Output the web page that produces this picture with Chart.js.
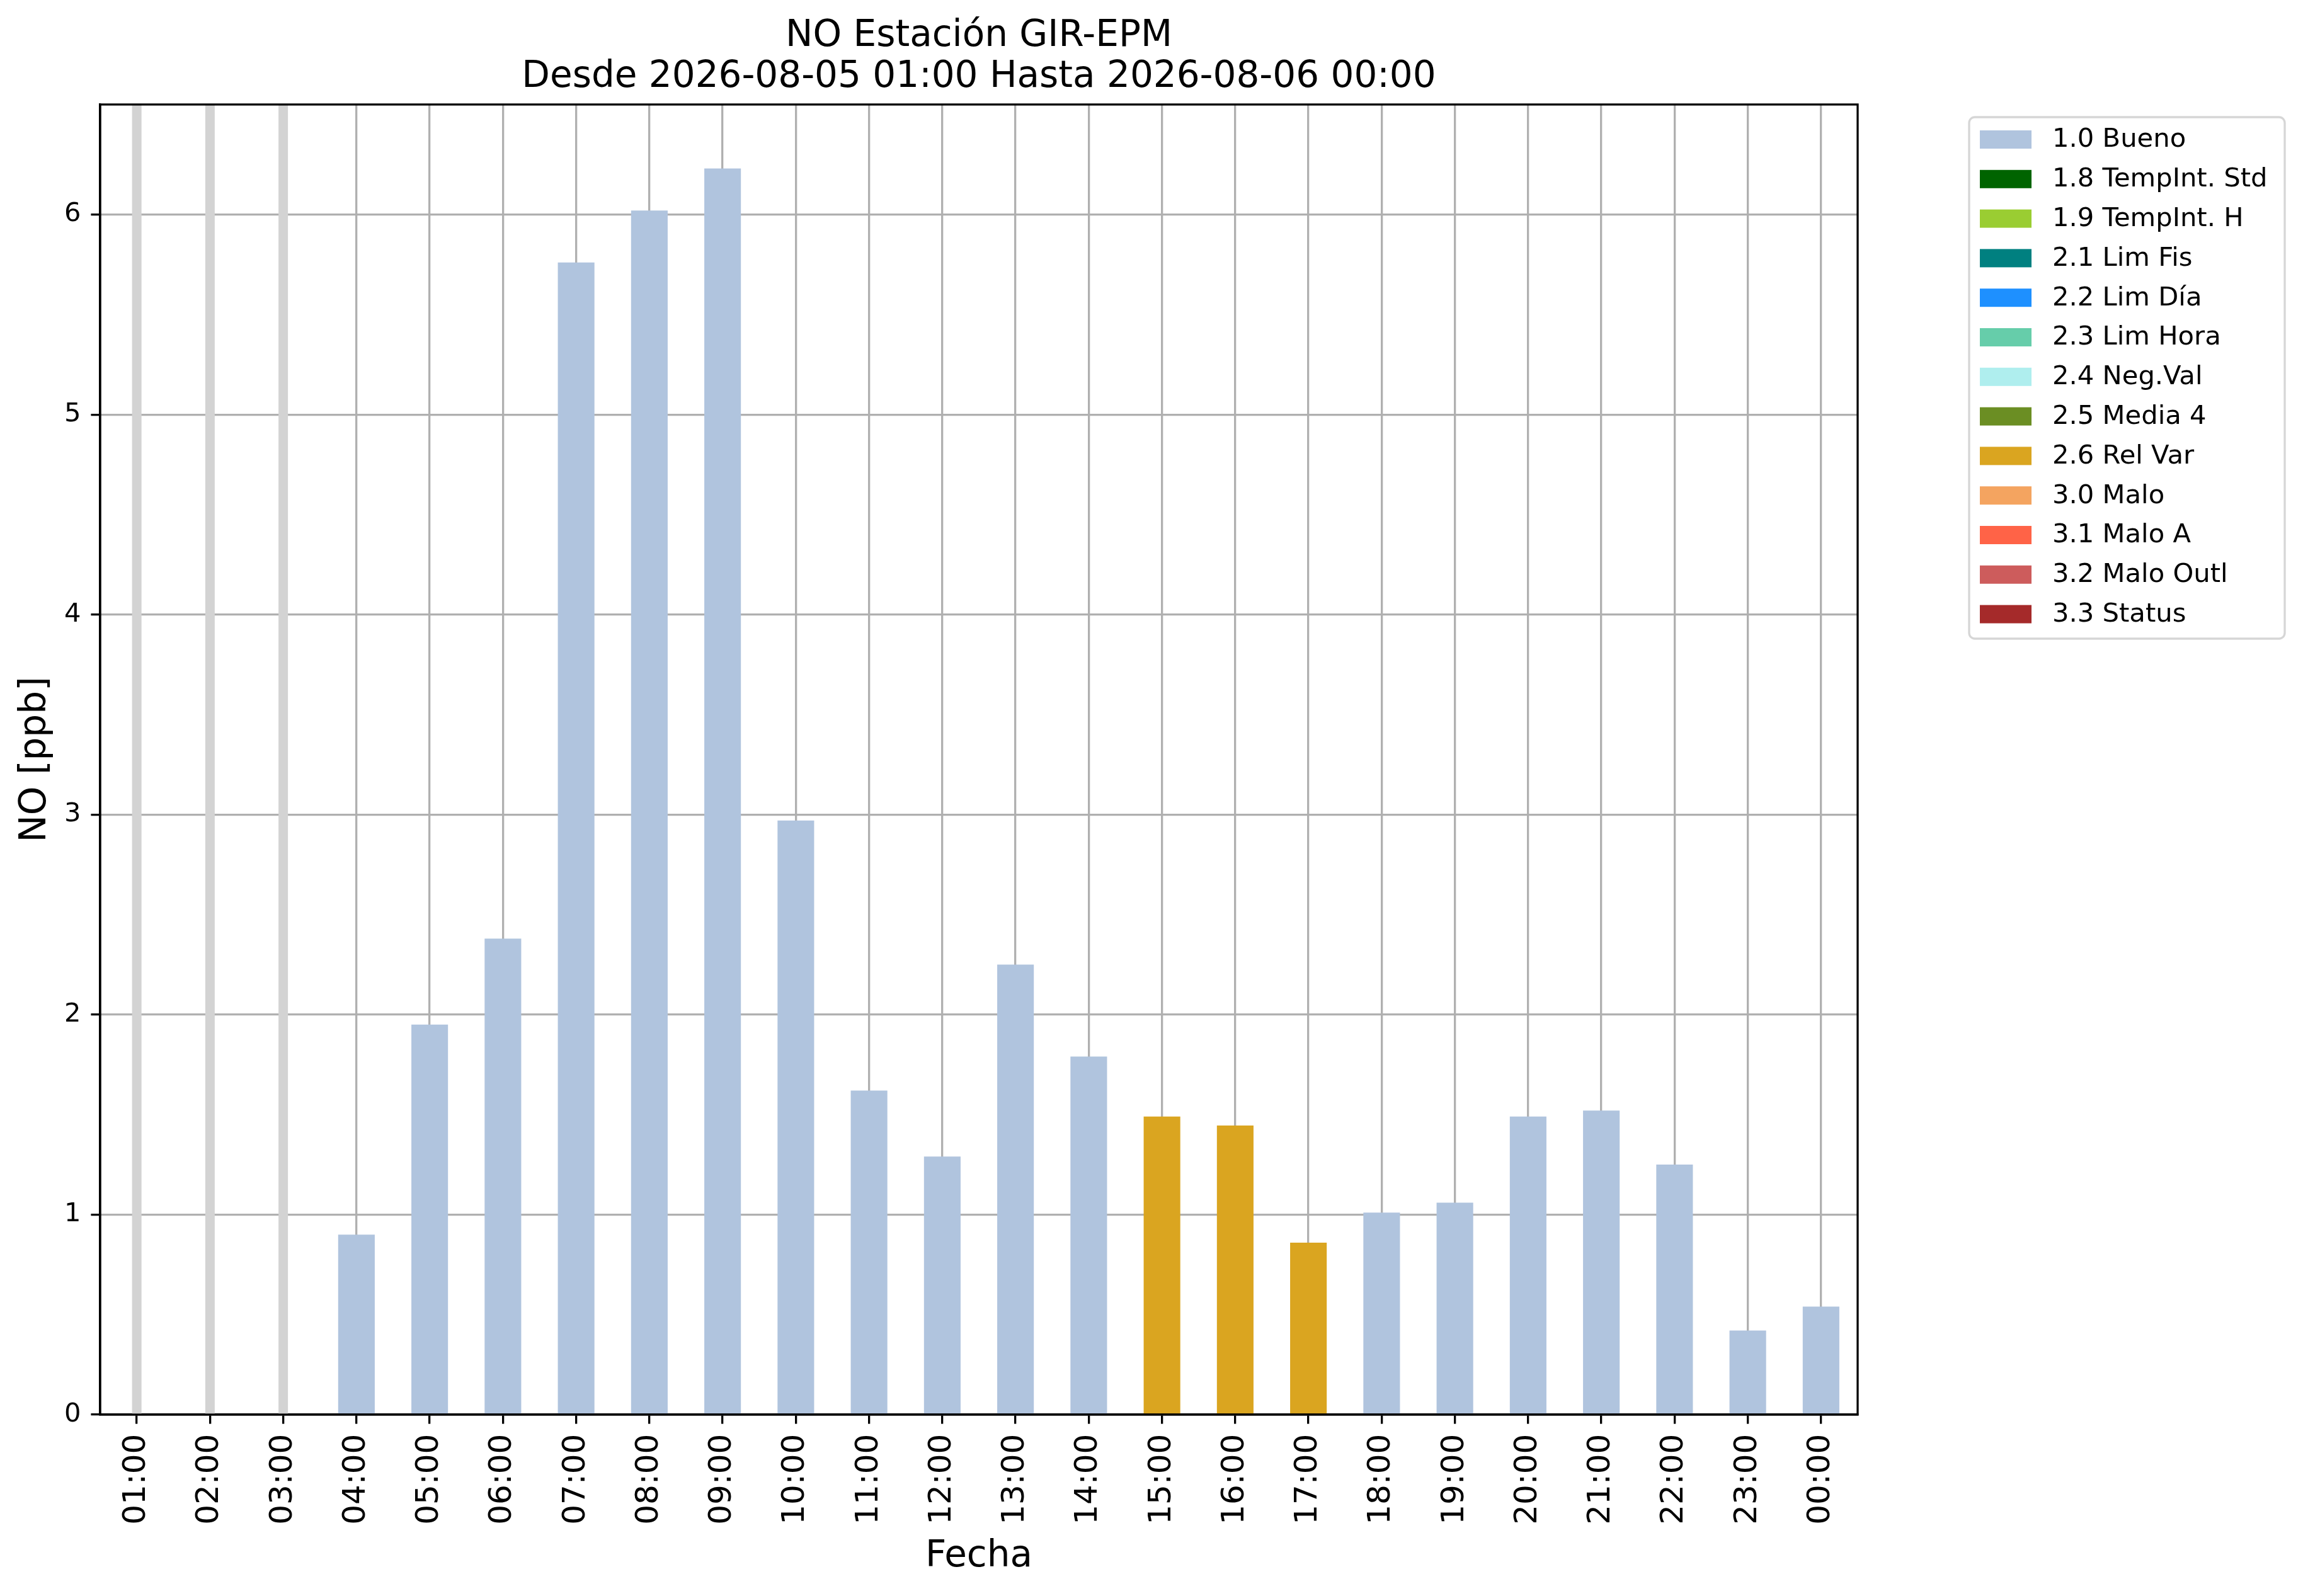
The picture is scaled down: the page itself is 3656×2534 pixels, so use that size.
<!DOCTYPE html>
<html>
<head>
<meta charset="utf-8">
<script src="https://cdn.jsdelivr.net/npm/chart.js@4.4.0/dist/chart.umd.min.js"></script>
<style>
    html, body { margin: 0; padding: 0; background: #FFFFFF; }
    #contenedor { width: 3656px; height: 2534px; }
</style>
</head>
<body>
<div id="contenedor"><canvas id="graficaNO" width="3656" height="2534"></canvas></div>
<script>
const horas = ['01:00', '02:00', '03:00', '04:00', '05:00', '06:00', '07:00', '08:00',
    '09:00', '10:00', '11:00', '12:00', '13:00', '14:00', '15:00', '16:00',
    '17:00', '18:00', '19:00', '20:00', '21:00', '22:00', '23:00', '00:00'];

const valoresBueno = [null, null, null, 0.90, 1.95, 2.38, 5.76, 6.02,
    6.23, 2.97, 1.62, 1.29, 2.25, 1.79, null, null,
    null, 1.01, 1.06, 1.49, 1.52, 1.25, 0.42, 0.54];

const valoresRelVar = [null, null, null, null, null, null, null, null,
    null, null, null, null, null, null, 1.49, 1.445,
    0.86, null, null, null, null, null, null, null];

const ticksY = [0, 1, 2, 3, 4, 5, 6];

const etiquetasBandera = ['1.0 Bueno', '1.8 TempInt. Std', '1.9 TempInt. H', '2.1 Lim Fis',
    '2.2 Lim Día', '2.3 Lim Hora', '2.4 Neg.Val', '2.5 Media 4', '2.6 Rel Var',
    '3.0 Malo', '3.1 Malo A', '3.2 Malo Outl', '3.3 Status'];

const coloresBandera = ['#B0C4DE', '#006400', '#9ACD32', '#008080', '#1E90FF', '#66CDAA',
    '#AFEEEE', '#6B8E23', '#DAA520', '#F4A460', '#FF6347', '#CD5C5C', '#A52A2A'];

const fuente = 'DejaVu Sans';

// horas sin dato: franja gris vertical
const bandasFaltantes = {
    id: 'bandasFaltantes',
    beforeDatasetsDraw(grafica) {
        const { ctx, chartArea, scales } = grafica;
        ctx.save();
        ctx.strokeStyle = '#D3D3D3';
        ctx.lineWidth = 15;
        horas.forEach((h, i) => {
            if (valoresBueno[i] === null && valoresRelVar[i] === null) {
                const px = scales.x.getPixelForValue(i);
                ctx.beginPath();
                ctx.moveTo(px, chartArea.top);
                ctx.lineTo(px, chartArea.bottom);
                ctx.stroke();
            }
        });
        ctx.restore();
    }
};

// marco del area y leyenda fuera del grafico
const marcoYLeyenda = {
    id: 'marcoYLeyenda',
    afterDraw(grafica) {
        const { ctx, chartArea } = grafica;
        ctx.save();
        ctx.strokeStyle = '#000000';
        ctx.lineWidth = 3.3;
        ctx.strokeRect(chartArea.left, chartArea.top,
            chartArea.right - chartArea.left, chartArea.bottom - chartArea.top);

        const x0 = chartArea.right + 177;
        const y0 = 186;
        ctx.beginPath();
        ctx.roundRect(x0, y0, 501, 828, 9);
        ctx.fillStyle = 'rgba(255,255,255,0.8)';
        ctx.fill();
        ctx.strokeStyle = '#D6D6D6';
        ctx.lineWidth = 3.3;
        ctx.stroke();

        ctx.font = '41.7px "' + fuente + '"';
        ctx.textBaseline = 'middle';
        ctx.textAlign = 'left';
        etiquetasBandera.forEach((texto, i) => {
            const yc = y0 + 35.5 + i * 62.8;
            ctx.fillStyle = coloresBandera[i];
            ctx.fillRect(x0 + 17, yc - 14.5, 82, 29);
            ctx.fillStyle = '#000000';
            ctx.fillText(texto, x0 + 132, yc + 1);
        });
        ctx.restore();
    }
};

new Chart(document.getElementById('graficaNO'), {
    type: 'bar',
    data: {
        labels: horas,
        datasets: [{
            label: etiquetasBandera[0],
            data: valoresBueno,
            backgroundColor: coloresBandera[0],
            barPercentage: 0.5,
            categoryPercentage: 1.0
        }, {
            label: etiquetasBandera[8],
            data: valoresRelVar,
            backgroundColor: coloresBandera[8],
            barPercentage: 0.5,
            categoryPercentage: 1.0
        }]
    },
    options: {
        responsive: false,
        animation: false,
        devicePixelRatio: 1,
        layout: {
            padding: { left: 0, right: 707, top: 0, bottom: 0 }
        },
        plugins: {
            legend: { display: false },
            tooltip: { enabled: false },
            title: {
                display: true,
                fullSize: false,
                text: ['NO Estación GIR-EPM', 'Desde 2026-08-05 01:00 Hasta 2026-08-06 00:00'],
                color: '#000000',
                font: { family: fuente, size: 58, weight: 'normal', lineHeight: 1.12 },
                padding: { top: 25, bottom: 11 }
            }
        },
        scales: {
            x: {
                stacked: true,
                z: 1,
                afterFit: (escala) => { escala.height = 288; },
                grid: {
                    offset: false,
                    color: '#B0B0B0',
                    lineWidth: 3.3,
                    tickColor: '#000000',
                    tickWidth: 3.3,
                    tickLength: 14.6
                },
                border: { color: '#000000', width: 3.3 },
                ticks: {
                    color: '#000000',
                    font: { family: fuente, size: 50 },
                    maxRotation: 90,
                    minRotation: 90,
                    autoSkip: false,
                    padding: 16
                },
                title: {
                    display: true,
                    text: 'Fecha',
                    color: '#000000',
                    font: { family: fuente, size: 58 },
                    padding: { top: 0, bottom: 27 }
                }
            },
            y: {
                stacked: true,
                z: 1,
                min: 0,
                max: 6.55,
                afterFit: (escala) => { escala.width = 159; },
                afterBuildTicks: (escala) => {
                    escala.ticks = ticksY.map(v => ({ value: v }));
                },
                grid: {
                    color: '#B0B0B0',
                    lineWidth: 3.3,
                    tickColor: '#000000',
                    tickWidth: 3.3,
                    tickLength: 14.6
                },
                border: { color: '#000000', width: 3.3 },
                ticks: {
                    color: '#000000',
                    font: { family: fuente, size: 41.7 },
                    padding: 16
                },
                title: {
                    display: true,
                    text: 'NO [ppb]',
                    color: '#000000',
                    font: { family: fuente, size: 58 },
                    padding: { top: 22, bottom: 0 }
                }
            }
        }
    },
    plugins: [bandasFaltantes, marcoYLeyenda]
});
</script>
</body>
</html>
